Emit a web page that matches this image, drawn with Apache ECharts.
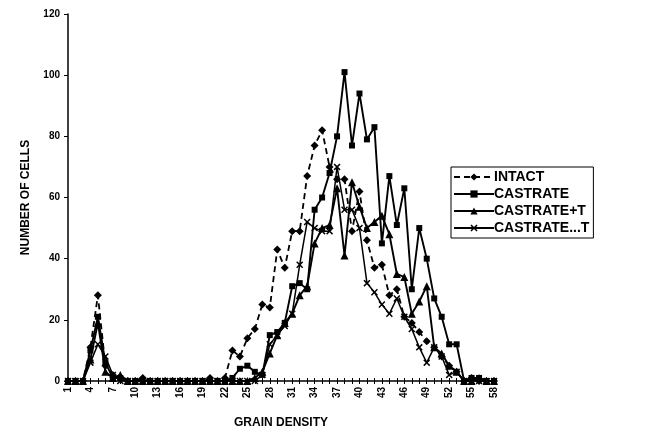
<!DOCTYPE html>
<html>
<head>
<meta charset="utf-8">
<script src="https://cdn.jsdelivr.net/npm/echarts@6/dist/echarts.min.js"></script>
<style>
html,body{margin:0;padding:0;background:#fff;}
#chart{width:655px;height:434px;}
</style>
</head>
<body>
<div id="chart"></div>
<script>
// Categories: grain density 1..58
var categories = ['1','2','3','4','5','6','7','8','9','10','11','12','13','14','15','16','17','18','19','20',
  '21','22','23','24','25','26','27','28','29','30','31','32','33','34','35','36','37','38','39','40',
  '41','42','43','44','45','46','47','48','49','50','51','52','53','54','55','56','57','58'];

var intact = [0,0,0,11,28,5,2,1,0,0,1,0,0,0,0,0,0,0,0,1,
  0,1,10,8,14,17,25,24,43,37,49,49,67,77,82,70,66,66,49,62,
  46,37,38,28,30,21,19,16,13,11,8,5,3,0,1,0,0,0];

var castrate = [0,0,0,10,21,6,1,1,0,0,0,0,0,0,0,0,0,0,0,0,
  0,0,1,4,5,3,2,15,16,19,31,32,30,56,60,68,80,101,77,94,
  79,83,45,67,51,63,30,50,40,27,21,12,12,0,1,1,0,0];

var castrateT = [0,0,0,7,19,3,1,2,0,0,0,0,0,0,0,0,0,0,0,0,
  0,0,0,0,0,1,3,9,15,19,22,28,31,45,50,51,63,41,65,57,
  50,52,54,48,35,34,22,26,31,11,9,5,3,0,0,1,0,0];

var castrateDotT = [0,0,0,6,12,8,2,0,0,0,0,0,0,0,0,0,0,0,0,0,
  0,0,0,0,0,0,2,12,15,18,22,38,52,50,49,49,70,56,56,50,
  32,29,25,22,27,21,17,11,6,11,8,2,3,0,0,0,0,0];

var yTicks = [0,20,40,60,80,100,120];
var seriesNames = ['INTACT','CASTRATE','CASTRATE+T','CASTRATE...T'];

var xMark = 'path://M0,1.5L1.5,0L5,3.5L8.5,0L10,1.5L6.5,5L10,8.5L8.5,10L5,6.5L1.5,10L0,8.5L3.5,5Z';
var fontFam = '"Liberation Sans", Arial, sans-serif';

var chart = echarts.init(document.getElementById('chart'), null, {renderer:'canvas'});

function mk(name, data, symbol, size, dashed, width){
  return {
    name: name, type: 'line', data: data, xAxisIndex: 0,
    symbol: symbol, symbolSize: size, showSymbol: true, showAllSymbol: true,
    lineStyle: {color:'#000', width: width, type: dashed ? [6,4] : 'solid'},
    itemStyle: {color:'#000'},
    emphasis: {disabled:true},
    animation:false, z: 3
  };
}

chart.setOption({
  animation:false,
  backgroundColor:'#fff',
  grid:{left:68, right:161, top:14, bottom:48, containLabel:false},
  legend:{
    orient:'vertical', left:451, top:167,
    data:seriesNames,
    itemWidth:40, itemHeight:9, itemGap:3,
    padding:[3,4,3,2],
    borderColor:'#000', borderWidth:1,
    textStyle:{fontFamily:fontFam, fontWeight:'bold', fontSize:14, color:'#000', padding:[0,0,0,-5]},
    selectedMode:false
  },
  xAxis:[{
    type:'category', data:categories, boundaryGap:false,
    name:'GRAIN DENSITY', nameLocation:'middle', nameGap:36,
    nameTextStyle:{fontFamily:fontFam, fontWeight:'bold', fontSize:12, color:'#000'},
    axisLine:{lineStyle:{color:'#000', width:1.5}},
    axisTick:{show:true, interval:0, length:3, lineStyle:{color:'#000'}},
    axisLabel:{interval:2, rotate:90, fontFamily:fontFam, fontWeight:'bold', fontSize:10, color:'#000', margin:6},
    splitLine:{show:false}
  },{
    type:'category', data:categories, boundaryGap:false, position:'bottom',
    axisLine:{show:false},
    axisTick:{show:true, inside:true, interval:0, length:3, lineStyle:{color:'#000'}},
    axisLabel:{show:false}, splitLine:{show:false}
  }],
  yAxis:{
    type:'value', min:yTicks[0], max:yTicks[yTicks.length-1], interval:20,
    name:'NUMBER OF CELLS', nameLocation:'middle', nameGap:36,
    nameTextStyle:{fontFamily:fontFam, fontWeight:'bold', fontSize:12, color:'#000'},
    axisLine:{show:true, lineStyle:{color:'#000', width:1.5}},
    axisTick:{show:true, length:4, lineStyle:{color:'#000'}},
    axisLabel:{fontFamily:fontFam, fontWeight:'bold', fontSize:10, color:'#000', margin:8},
    splitLine:{show:false}
  },
  series:[
    mk(seriesNames[0], intact, 'diamond', 8, true, 1.8),
    mk(seriesNames[1], castrate, 'rect', 6, false, 1.9),
    mk(seriesNames[2], castrateT, 'triangle', 8, false, 1.9),
    mk(seriesNames[3], castrateDotT, xMark, 7, false, 1.5)
  ]
});
</script>
</body>
</html>
